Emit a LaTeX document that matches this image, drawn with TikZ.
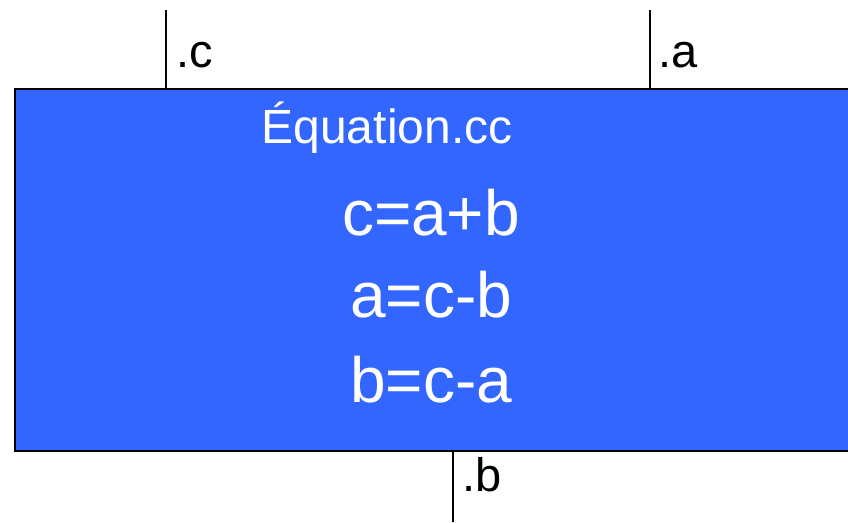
\documentclass[tikz,border=0pt]{standalone}
\usepackage{fontspec}
\setmainfont{Liberation Sans}
\usetikzlibrary{positioning}

\begin{document}
\begin{tikzpicture}[
  x=1pt, y=-1pt,
  eqbox/.style={
    draw=black,
    line width=1.6pt,
    fill=eqblue,
    anchor=north west,
    inner sep=0pt,
    minimum width=860pt,
    minimum height=362pt
  },
  port/.style={line width=1.2pt},
  portlabel/.style={anchor=base west, inner sep=0pt, font=\fontsize{47}{52}\selectfont},
  eqtext/.style={anchor=base, inner sep=0pt, text=white}
]
\definecolor{eqblue}{HTML}{3366FF}
\useasboundingbox (0,0) rectangle (848,522);

% The equation block, running past the right edge.
\node[eqbox] (eq) at (14,88) {};

% Title and the three forms of the equation.
\node[eqtext, font=\fontsize{48}{54}\selectfont] (title) at (387,143) {Équation.cc};
\node[eqtext, font=\fontsize{64}{70}\selectfont] (eqc) at (431,235) {c=a+b};
\node[eqtext, font=\fontsize{64}{70}\selectfont] (eqa) at (431,317) {a=c-b};
\node[eqtext, font=\fontsize{64}{70}\selectfont] (eqb) at (431,402) {b=c-a};

% Ports: two on top, one below.
\coordinate (cend) at (166,10);
\coordinate (aend) at (650,10);
\coordinate (bend) at (453,522);

\draw[port] (cend) -- (cend |- eq.north);
\draw[port] (aend) -- (aend |- eq.north);
\draw[port] (bend) -- (bend |- eq.south);

\node[portlabel] (clabel) at (176,67) {.c};
\node[portlabel] (alabel) at (658,67) {.a};
\node[portlabel] (blabel) at (462,491) {.b};

\end{tikzpicture}
\end{document}
